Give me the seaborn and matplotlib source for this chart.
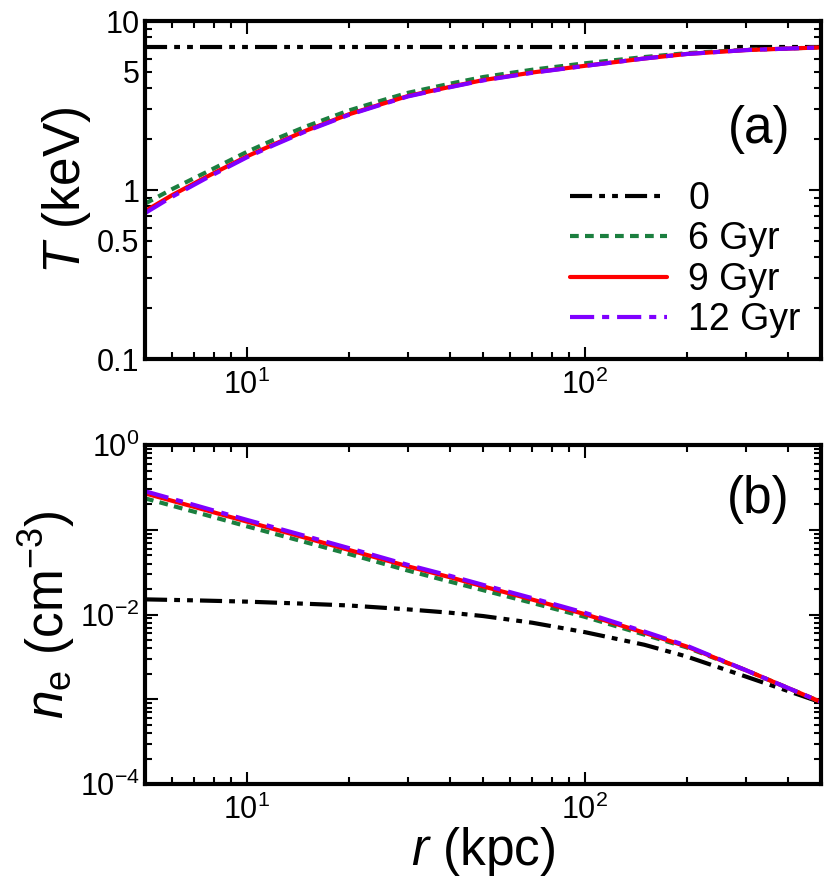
import math
import matplotlib
matplotlib.use("Agg")
import matplotlib.pyplot as plt
import matplotlib.ticker as mticker
import seaborn as sns

# radius (kpc) for panel (a)
r_T = [5, 6, 7.5, 10, 12, 15, 20, 25, 30, 40, 50, 70, 100, 150, 200, 300, 500]
# temperature (keV)
T_0 = [7.05] * len(r_T)
T_6 = [0.83, 1.01, 1.26, 1.68, 1.98, 2.38, 2.95, 3.38, 3.76, 4.26, 4.66, 5.15, 5.62, 6.12, 6.45, 6.76, 6.98]
T_9 = [0.75, 0.93, 1.18, 1.58, 1.86, 2.25, 2.80, 3.22, 3.60, 4.08, 4.47, 4.96, 5.43, 6.00, 6.38, 6.73, 6.98]
T_12 = [0.73, 0.91, 1.16, 1.56, 1.84, 2.23, 2.78, 3.20, 3.58, 4.06, 4.45, 4.94, 5.42, 6.00, 6.38, 6.73, 6.98]

# radius (kpc) for panel (b)
r_ne = [5, 7, 10, 15, 20, 30, 40, 50, 70, 100, 150, 200, 300, 500]
# electron density (cm^-3)
ne_0 = [0.0151, 0.0147, 0.0142, 0.0134, 0.0128, 0.0115, 0.0105, 0.0096, 0.0080, 0.0062, 0.0044, 0.0032, 0.00185, 0.00092]
ne_6 = [0.235, 0.163, 0.110, 0.071, 0.052, 0.0330, 0.0244, 0.0194, 0.0137, 0.0094, 0.0058, 0.0041, 0.0022, 0.00093]
ne_9 = [0.269, 0.186, 0.125, 0.080, 0.058, 0.037, 0.0275, 0.0215, 0.0150, 0.0101, 0.0061, 0.0042, 0.0022, 0.00093]
ne_12 = [0.285, 0.196, 0.131, 0.084, 0.061, 0.0385, 0.0286, 0.0224, 0.0156, 0.0105, 0.0063, 0.0043, 0.0022, 0.00093]

labels = ['0', '6 Gyr', '9 Gyr', '12 Gyr']
colors = ['black', '#1b7f3f', '#ff0000', '#7f00ff']
dash_styles = [(5.3, 1.7, 1.4, 1.7, 1.4, 1.7), (2.1, 1.5), (), (5.8, 1.9, 1.7, 1.9)]

sns.set_style("ticks")
plt.rcParams['font.family'] = ['Liberation Sans', 'DejaVu Sans']
plt.rcParams['mathtext.fontset'] = 'custom'
plt.rcParams['mathtext.rm'] = 'Liberation Sans'
plt.rcParams['mathtext.it'] = 'Liberation Sans:italic'
for key in ['text.color', 'axes.labelcolor', 'xtick.color', 'ytick.color', 'axes.edgecolor']:
    plt.rcParams[key] = 'black'

fig = plt.figure(figsize=(8.3, 8.94), dpi=100)
ax_a = fig.add_axes([0.1747, 0.5984, 0.8145, 0.3781])
ax_b = fig.add_axes([0.1747, 0.1230, 0.8145, 0.3792])


def draw(ax, x, series, with_label):
    for ys, lab, c, d in zip(series, labels, colors, dash_styles):
        sns.lineplot(x=x, y=ys, ax=ax, color=c, lw=3, sort=False,
                     label=lab if with_label else None, legend=False)
        line = ax.lines[-1]
        if d:
            line.set_dashes(d)


draw(ax_a, r_T, [T_0, T_6, T_9, T_12], True)
draw(ax_b, r_ne, [ne_0, ne_6, ne_9, ne_12], False)

for ax in (ax_a, ax_b):
    ax.set_xscale('log')
    ax.set_yscale('log')
    ax.set_xlim(5, 500)
    ax.xaxis.set_major_locator(mticker.FixedLocator([10, 100]))
    ax.xaxis.set_major_formatter(mticker.FixedFormatter([r'$10^{1}$', r'$10^{2}$']))
    ax.xaxis.set_minor_locator(mticker.LogLocator(base=10, subs=range(2, 10), numticks=20))
    ax.xaxis.set_minor_formatter(mticker.NullFormatter())
    ax.tick_params(which='both', direction='in', top=True, right=True, width=1.5)
    ax.tick_params(which='major', length=9, labelsize=22)
    ax.tick_params(which='minor', length=5)
    ax.tick_params(axis='x', which='major', pad=8)
    ax.tick_params(axis='y', which='major', pad=4)
    for s in ax.spines.values():
        s.set_linewidth(3)
        s.set_color('black')

# panel (a) y axis
ax_a.set_ylim(0.1, 10)
ax_a.yaxis.set_major_locator(mticker.FixedLocator([0.1, 1, 10]))
ax_a.yaxis.set_major_formatter(mticker.FixedFormatter(['0.1', '1', '10']))
ax_a.yaxis.set_minor_locator(mticker.LogLocator(base=10, subs=range(2, 10), numticks=20))
ax_a.yaxis.set_minor_formatter(mticker.FuncFormatter(
    lambda v, p: ('%g' % v) if abs(v - 0.5) < 1e-6 or abs(v - 5) < 1e-6 else ''))
ax_a.tick_params(axis='y', which='minor', labelsize=22, pad=4)
ax_a.set_ylabel(r'$T$ (keV)', fontsize=37)
ax_a.yaxis.set_label_coords(-0.077, 0.5)
ax_a.set_xlabel('')

# panel (b) y axis
ax_b.set_ylim(1e-4, 1)
ax_b.yaxis.set_major_locator(mticker.LogLocator(base=10, numticks=10))
ax_b.yaxis.set_major_formatter(mticker.FuncFormatter(
    lambda v, p: (r'$10^{%d}$' % round(math.log10(v))) if round(math.log10(v)) % 2 == 0 else ''))
ax_b.yaxis.set_minor_locator(mticker.LogLocator(base=10, subs=range(2, 10), numticks=20))
ax_b.yaxis.set_minor_formatter(mticker.NullFormatter())
ax_b.set_ylabel(r'$n_{\rm e}$ (cm$^{-3}$)', fontsize=37)
ax_b.yaxis.set_label_coords(-0.1006, 0.5)
ax_b.set_xlabel(r'$r$ (kpc)', fontsize=37)
ax_b.xaxis.set_label_coords(0.5, -0.12)

ax_a.text(0.954, 0.678, '(a)', transform=ax_a.transAxes, fontsize=37,
          ha='right', va='center')
ax_b.text(0.954, 0.838, '(b)', transform=ax_b.transAxes, fontsize=37,
          ha='right', va='center')

ax_a.legend(loc='lower right', bbox_to_anchor=(1.0, 0.0), frameon=False,
            fontsize=27, handlelength=2.6, handletextpad=0.55,
            labelspacing=0.12, borderaxespad=0.15)

fig.savefig('out.png', dpi=100)
